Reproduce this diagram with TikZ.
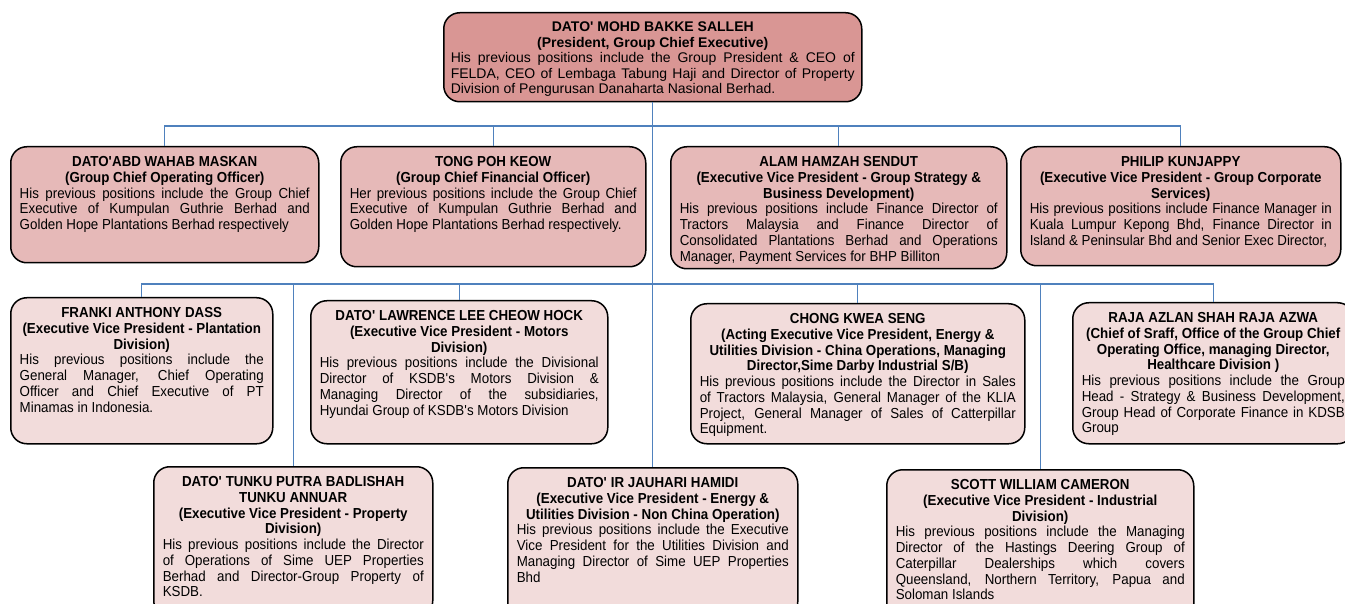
\documentclass[tikz,border=0pt]{standalone}
\usepackage{fontspec}
\setmainfont{Liberation Sans}
\newfontfamily\narrowsf[FakeStretch=0.92]{Liberation Sans}
\definecolor{topfill}{HTML}{D99694}
\definecolor{midfill}{HTML}{E6B9B8}
\definecolor{lowfill}{HTML}{F2DCDB}
\definecolor{linkblue}{HTML}{4F81BD}
\newcommand{\ap}{\textquotesingle}
\newcommand{\br}{\linebreak}
% width, height, bold heading, body
\newcommand{\bio}[4]{\parbox[t][#2][t]{#1}{\hyphenpenalty=10000 \exhyphenpenalty=10000 \hbadness=10000 {\centering\bfseries #3\par}#4}}

\begin{document}
\begin{tikzpicture}[x=1pt,y=-1pt]
\tikzstyle{boss} = [rectangle, rounded corners=16pt, draw=black, line width=1.5pt, fill=topfill, inner xsep=7pt, inner ysep=9pt, anchor=north west, font={\fontsize{14}{15.5}\selectfont}]
\tikzstyle{head} = [boss, fill=midfill, inner xsep=9pt, inner ysep=10pt, font={\narrowsf\fontsize{14.5}{15.7}\selectfont}]
\tikzstyle{unit} = [head, fill=lowfill]
\tikzstyle{link} = [draw=linkblue, line width=1.3pt]
\useasboundingbox (0,0) rectangle (1345,604);

\node (Top)[boss] at (443,12) {\bio{404pt}{71pt}{DATO\ap{} MOHD BAKKE SALLEH\\(President, Group Chief Executive)}{His previous positions include the Group President \& CEO of FELDA, CEO of Lembaga Tabung Haji and Director of Property Division of Pengurusan Danaharta Nasional Berhad.}};

\node (Wahab)[head] at (10,146) {\bio{290pt}{96pt}{DATO\ap ABD WAHAB MASKAN\\(Group Chief Operating Officer)}{His previous positions include the Group Chief\br Executive of Kumpulan Guthrie Berhad and\br Golden Hope Plantations Berhad respectively}};
\node (Tong)[head] at (340,146) {\bio{287pt}{100pt}{TONG POH KEOW\\(Group Chief Financial Officer)}{Her previous positions include the Group Chief\br Executive of Kumpulan Guthrie Berhad and\br Golden Hope Plantations Berhad respectively.}};
\node (Alam)[head] at (670,146) {\bio{318pt}{102pt}{ALAM HAMZAH SENDUT\\(Executive Vice President - Group Strategy \&\\Business Development)}{His previous positions include Finance Director of\br Tractors Malaysia and Finance Director of\br Consolidated Plantations Berhad and Operations\br Manager, Payment Services for BHP Billiton}};
\node (Philip)[head] at (1020,146) {\bio{302pt}{99pt}{PHILIP KUNJAPPY\\(Executive Vice President - Group Corporate\\Services)}{His previous positions include Finance Manager in\br Kuala Lumpur Kepong Bhd, Finance Director in\br Island \& Peninsular Bhd and Senior Exec Director,}};

\node (Franki)[unit] at (10,297) {\bio{244pt}{126pt}{FRANKI ANTHONY DASS\\(Executive Vice President - Plantation\\Division)}{His previous positions include the\br General Manager, Chief Operating\br Officer and Chief Executive of PT\br Minamas in Indonesia.}};
\node (Lawrence)[unit] at (310,300) {\bio{279pt}{123pt}{DATO\ap{} LAWRENCE LEE CHEOW HOCK\\(Executive Vice President - Motors\\Division)}{His previous positions include the Divisional\br Director of KSDB\ap s Motors Division \&\br Managing Director of the subsidiaries,\br Hyundai Group of KSDB\ap s Motors Division}};
\node (Chong)[unit] at (690,303) {\bio{316pt}{120pt}{CHONG KWEA SENG\\(Acting Executive Vice President, Energy \&\\Utilities Division - China Operations, Managing\\Director,Sime Darby Industrial S/B)}{His previous positions include the Director in Sales\br of Tractors Malaysia, General Manager of the KLIA\br Project, General Manager of Sales of Catterpillar\br Equipment.}};
\node (Raja)[unit] at (1072,302) {\bio{263pt}{121pt}{RAJA AZLAN SHAH RAJA AZWA\\(Chief of Sraff, Office of the Group Chief\\Operating Office, managing Director,\\Healthcare Division )}{His previous positions include the Group\br Head - Strategy \& Business Development,\br Group Head of Corporate Finance in KDSB\br Group}};

\node (Tunku)[unit] at (153,466) {\bio{261pt}{130pt}{DATO\ap{} TUNKU PUTRA BADLISHAH\\TUNKU ANNUAR\\(Executive Vice President - Property\\Division)}{His previous positions include the Director\br of Operations of Sime UEP Properties\br Berhad and Director-Group Property of\br KSDB.}};
\node (Jauhari)[unit] at (507,467) {\bio{272pt}{130pt}{DATO\ap{} IR JAUHARI HAMIDI\\(Executive Vice President - Energy \&\\Utilities Division - Non China Operation)}{His previous positions include the Executive\br Vice President for the Utilities Division and\br Managing Director of Sime UEP Properties\br Bhd}};
\node (Scott)[unit] at (886,469) {\bio{289pt}{130pt}{SCOTT WILLIAM CAMERON\\(Executive Vice President - Industrial\\Division)}{His previous positions include the Managing\br Director of the Hastings Deering Group of\br Caterpillar Dealerships which covers\br Queensland, Northern Territory, Papua and\br Soloman Islands}};

% buses under the president and under the first row
\coordinate (busA) at (652,126);
\coordinate (busB) at (652,284);
\draw[link] (Top.south) -- (Jauhari.north);
\draw[link] (Wahab.north) |- (busA) -| (Philip.north);
\draw[link] (Tong.north) -- (Tong.north |- busA);
\draw[link] (Alam.north) -- (Alam.north |- busA);
\draw[link] (Franki.north) |- (busB) -| (Raja.north);
\draw[link] (Lawrence.north) -- (Lawrence.north |- busB);
\draw[link] (Chong.north) -- (Chong.north |- busB);
\draw[link] (Tunku.north) -- (Tunku.north |- busB);
\draw[link] (Scott.north) -- (Scott.north |- busB);
\end{tikzpicture}
\end{document}
